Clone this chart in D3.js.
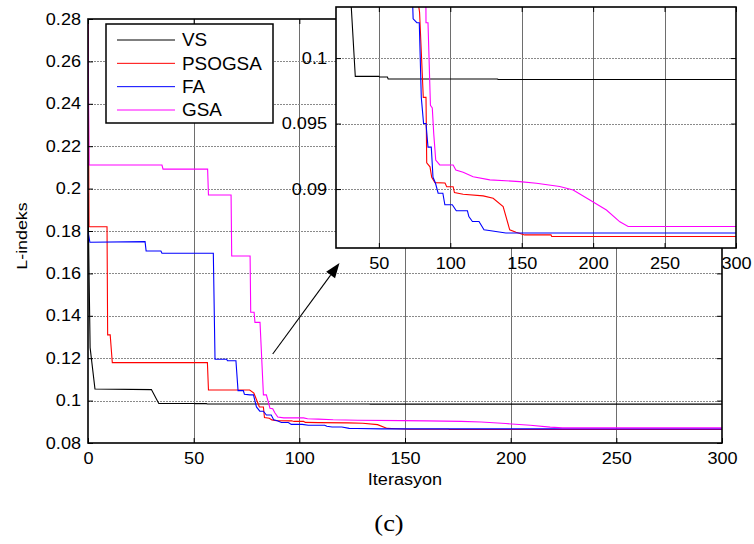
<!DOCTYPE html>
<html><head><meta charset="utf-8">
<script src="https://cdn.jsdelivr.net/npm/d3@7"></script>
<style>
body{margin:0;background:#fff}
text{font-family:Arial,"Liberation Sans",sans-serif;fill:#000}
</style>
</head><body><svg id="c" width="754" height="544"></svg>
<script>
// ---------- data ----------
const seriesNames  = ["VS","PSOGSA","FA","GSA"];
const seriesColors = ["#000000","#ff0000","#0000ff","#ff00ff"];

const vsIter = [0,0.5,1,3.3,30,33.5,50,50.5,56,56.5,133,133.5,300];
const vsVal  = [0.198,0.16,0.125,0.1055,0.1052,0.0986,0.0986,0.09855,0.09855,0.0984,0.0984,0.09836,0.09836];

const psoIter = [0,0.5,9,9.3,10.5,11.5,56.5,57,76.5,78.5,81.1,83,83.5,85.8,87,89.3,96.3,97.5,102,102.9,109,123,130,137,141.6,146,152,170.5,171,300];
const psoVal  = [0.28,0.182,0.182,0.131,0.131,0.1179,0.1179,0.105,0.105,0.1035,0.0970,0.0970,0.0920,0.0917,0.0909,0.09049,0.09046,0.09018,0.09018,0.08973,0.0896,0.08948,0.0893,0.08866,0.08689,0.08671,0.0865,0.0865,0.08638,0.08638];

const faIter = [0,0.9,27,27.5,34.5,35,59.3,60.1,65.6,66,70,71,73.5,74,76.6,78.3,79.7,81.3,83,84.4,86.7,87.9,89.6,91.5,94.8,96.2,101.4,104.2,112,113,115.5,120.1,123.6,127.2,138.9,300];
const faVal  = [0.1797,0.1747,0.175,0.1706,0.1706,0.1695,0.1695,0.1195,0.1195,0.1188,0.1188,0.1047,0.1047,0.1030,0.1027,0.1027,0.0970,0.0950,0.0950,0.0932,0.0932,0.0909,0.09046,0.08968,0.08968,0.0888,0.0888,0.08834,0.08834,0.0879,0.08752,0.08752,0.08689,0.08684,0.08664,0.08664];

const gsaIter = [0,0.5,35,35.5,56.6,57,67.7,68,76.7,77,78.6,79,81.4,83,84.4,86.1,87.4,88.4,89.8,92.6,102,103.9,109,116,127.7,148.6,160.3,176.6,186,197.7,209.3,218.7,224.5,300];
const gsaVal  = [0.28,0.2111,0.2111,0.2092,0.2092,0.197,0.197,0.1682,0.1682,0.1417,0.1417,0.1369,0.1369,0.1027,0.1027,0.0964,0.0962,0.09425,0.09222,0.09184,0.09184,0.09146,0.09128,0.09094,0.0907,0.09057,0.09044,0.0902,0.08993,0.08917,0.0884,0.0875,0.08714,0.08714];

const xTicks = [0,50,100,150,200,250,300];
const yTicks = [0.08,0.1,0.12,0.14,0.16,0.18,0.2,0.22,0.24,0.26,0.28];
const yTickLabels = ["0.08","0.1","0.12","0.14","0.16","0.18","0.2","0.22","0.24","0.26","0.28"];
const insetXTicks = [50,100,150,200,250,300];
const insetYTicks = [0.09,0.095,0.1];
const insetYTickLabels = ["0.09","0.095","0.1"];
const xLabel = "Iterasyon", yLabel = "L-indeks", caption = "(c)";
const arrowFrom = [87.4,0.122], arrowTo = [119,0.1649];

const iters = [vsIter,psoIter,faIter,gsaIter];
const vals  = [vsVal,psoVal,faVal,gsaVal];
const series = seriesNames.map((n,i)=>({name:n,color:seriesColors[i],pts:iters[i].map((t,j)=>[t,vals[i][j]])}));

// ---------- layout ----------
const svg = d3.select("#c");
const M = {l:88,r:722,t:19,b:443};
const I = {l:336,r:736,t:7,b:248};
const x = d3.scaleLinear([0,300],[M.l,M.r]);
const y = d3.scaleLinear([0.08,0.28],[M.b,M.t]);
const xi = d3.scaleLinear([20,300],[I.l,I.r]);
const yi = d3.scaleLinear([0.0855,0.1039],[I.b,I.t]);

const defs = svg.append("defs");
defs.append("clipPath").attr("id","cm").append("rect").attr("x",M.l).attr("y",M.t).attr("width",M.r-M.l).attr("height",M.b-M.t);
defs.append("clipPath").attr("id","ci").append("rect").attr("x",I.l).attr("y",I.t).attr("width",I.r-I.l).attr("height",I.b-I.t);

function drawPanel(g, xs, ys, xt, yt, ytl, clip, showXLabels){
  const [x0,x1]=xs.range(), [y0,y1]=ys.range();
  g.append("rect").attr("x",x0).attr("y",y1).attr("width",x1-x0).attr("height",y0-y1).attr("fill","#fff");
  const grid = g.append("g").attr("stroke-width",1);
  grid.selectAll(".gx").data(xt.filter(v=>xs(v)>x0+1&&xs(v)<x1-1)).join("line")
    .attr("stroke","#6e6e6e")
    .attr("x1",d=>Math.round(xs(d))+0.5).attr("x2",d=>Math.round(xs(d))+0.5).attr("y1",y0).attr("y2",y1);
  grid.selectAll(".gy").data(yt.filter(v=>ys(v)<y0-1&&ys(v)>y1+1)).join("line")
    .attr("stroke","#8a8a8a").attr("stroke-dasharray","2,1")
    .attr("y1",d=>Math.round(ys(d))+0.5).attr("y2",d=>Math.round(ys(d))+0.5).attr("x1",x0).attr("x2",x1);
  const line = d3.line().x(d=>xs(d[0])).y(d=>ys(d[1]));
  g.append("g").attr("clip-path",`url(#${clip})`).selectAll("path").data(series).join("path")
    .attr("d",d=>line(d.pts)).attr("fill","none").attr("stroke",d=>d.color).attr("stroke-width",1.1);
  const fs = 16;
  const ax = (gen, tr)=>{const a=g.append("g").attr("transform",tr).call(gen);
    a.select(".domain").remove(); a.selectAll("line").attr("stroke","#000");
    a.selectAll("text").attr("font-size",fs).attr("font-family",null).attr("data-k",1.13); return a;};
  ax(d3.axisBottom(xs).tickValues(xt).tickSize(-5).tickPadding(10).tickFormat(showXLabels?d3.format("d"):""), `translate(0,${y0})`);
  ax(d3.axisTop(xs).tickValues(xt).tickSize(-5).tickFormat(""), `translate(0,${y1})`);
  ax(d3.axisLeft(ys).tickValues(yt).tickSize(-5).tickPadding(clip==="cm"?7:9).tickFormat((d,i)=>ytl[i]), `translate(${x0},0)`);
  ax(d3.axisRight(ys).tickValues(yt).tickSize(-5).tickFormat(""), `translate(${x1},0)`);
  g.append("rect").attr("x",x0).attr("y",y1).attr("width",x1-x0).attr("height",y0-y1)
    .attr("fill","none").attr("stroke","#000").attr("stroke-width",1.6);
}

svg.append("rect").attr("width",754).attr("height",544).attr("fill","#fff");
const gm = svg.append("g");
drawPanel(gm, x, y, xTicks, yTicks, yTickLabels, "cm", true);

// axis labels
svg.append("text").attr("x",(M.l+M.r)/2).attr("y",485).attr("text-anchor","middle").attr("font-size",16).attr("data-k",1.13).text(xLabel);
svg.append("text").attr("transform",`translate(27,236) rotate(-90)`).attr("text-anchor","middle").attr("font-size",15.5).attr("data-k",1.15).text(yLabel);
svg.append("text").attr("x",389).attr("y",531).attr("text-anchor","middle").attr("font-size",24)
  .style("font-family","'Liberation Serif','Times New Roman',serif").attr("data-k",1.1).text(caption);

// legend
const lg = svg.append("g");
lg.append("rect").attr("x",106).attr("y",24).attr("width",167).attr("height",99).attr("fill","#fff").attr("stroke","#000").attr("stroke-width",1.5);
const rowY = d3.scalePoint().domain(seriesNames).range([40,110]);
series.forEach(s=>{
  lg.append("line").attr("x1",117).attr("x2",175).attr("y1",rowY(s.name)).attr("y2",rowY(s.name)).attr("stroke",s.color).attr("stroke-width",1);
  lg.append("text").attr("x",182).attr("y",rowY(s.name)).attr("dy","0.36em").attr("font-size",18).attr("data-k",1.05).text(s.name);
});

// arrow
const ax0=x(arrowFrom[0]), ay0=y(arrowFrom[1]), ax1=x(arrowTo[0]), ay1=y(arrowTo[1]);
const ang = Math.atan2(ay1-ay0, ax1-ax0), hl=15, hw=5.5;
const bx = ax1-hl*Math.cos(ang), by = ay1-hl*Math.sin(ang);
svg.append("line").attr("x1",ax0).attr("y1",ay0).attr("x2",bx).attr("y2",by).attr("stroke","#000").attr("stroke-width",1.1);
svg.append("path").attr("d",d3.line()([[ax1,ay1],[bx+hw*Math.sin(ang),by-hw*Math.cos(ang)],[bx-hw*Math.sin(ang),by+hw*Math.cos(ang)]])+"Z").attr("fill","#000");

// inset
const gi = svg.append("g");
drawPanel(gi, xi, yi, insetXTicks, insetYTicks, insetYTickLabels, "ci", true);

// horizontal stretch of text to match reference glyph widths
svg.selectAll("text").each(function(){
  const k = +this.getAttribute("data-k") || 1.13;
  const w = this.getComputedTextLength();
  if(w>0){ this.setAttribute("textLength", w*k); this.setAttribute("lengthAdjust","spacingAndGlyphs"); }
});
</script>
</body></html>
